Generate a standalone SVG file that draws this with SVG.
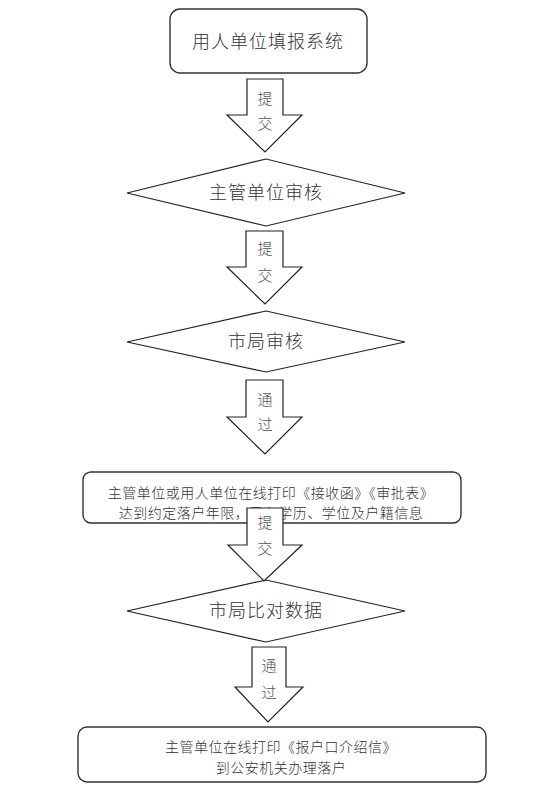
<svg xmlns="http://www.w3.org/2000/svg" width="554" height="793" viewBox="0 0 554 793">
<style>
.box{fill:#fff;stroke:#333;stroke-width:1.4}
.dia{fill:#fff;stroke:#222;stroke-width:1.2}
.arr{fill:#fff;stroke:#222;stroke-width:1.2;stroke-linejoin:miter}
text{font-family:"Liberation Sans","Noto Sans CJK SC",sans-serif;font-weight:300;fill:#333;text-anchor:middle;dominant-baseline:central}
.big{font-size:18px;letter-spacing:1px}
.small{font-size:14px;letter-spacing:0.5px}
.lab{font-size:15px;fill:#555}
</style>
<rect width="554" height="793" fill="#fff"/>
<g id="n1">
<rect class="box" x="170" y="9" width="197" height="64" rx="10"/>
<text class="big" x="268" y="42">用人单位填报系统</text>
</g>
<g id="n2">
<polygon class="dia" points="127,193 266,159 405,193 266,226"/>
<text class="big" x="266" y="193">主管单位审核</text>
</g>
<g id="n3">
<polygon class="dia" points="127,342 266,311 405,342 266,372"/>
<text class="big" x="266" y="342">市局审核</text>
</g>
<g id="n4">
<rect class="box" x="83" y="472" width="378" height="51" rx="8"/>
<text class="small" x="271" y="493">主管单位或用人单位在线打印《接收函》《审批表》</text>
<text class="small" x="271" y="513">达到约定落户年限，录入学历、学位及户籍信息</text>
</g>
<g id="n5">
<polygon class="dia" points="127,611 266,580 405,611 266,642"/>
<text class="big" x="266" y="611">市局比对数据</text>
</g>
<g id="n6">
<rect class="box" x="78" y="727" width="408" height="55" rx="9"/>
<text class="small" x="281" y="747">主管单位在线打印《报户口介绍信》</text>
<text class="small" x="281" y="768">到公安机关办理落户</text>
</g>
<g id="connectors">
<g id="c1">
<polygon class="arr" points="247,79 283,79 283,115 302,115 265,152 227,115 247,115"/>
<text class="lab" x="265" y="98">提</text>
<text class="lab" x="265" y="123">交</text>
</g>
<g id="c2">
<polygon class="arr" points="246,231 283,231 283,267 302,267 265,304 227,267 246,267"/>
<text class="lab" x="265" y="248">提</text>
<text class="lab" x="265" y="275">交</text>
</g>
<g id="c3">
<polygon class="arr" points="246,380 283,380 283,417 302,417 265,454 227,417 246,417"/>
<text class="lab" x="265" y="399">通</text>
<text class="lab" x="265" y="424">过</text>
</g>
<g id="c4">
<polygon class="arr" points="247,508 283,508 283,545 302,545 264,581 228,545 247,545"/>
<text class="lab" x="265" y="522">提</text>
<text class="lab" x="265" y="548">交</text>
</g>
<g id="c5">
<polygon class="arr" points="252,647 286,647 286,687 303,687 268,722 235,687 252,687"/>
<text class="lab" x="269" y="665">通</text>
<text class="lab" x="269" y="692">过</text>
</g>
</g>
</svg>
